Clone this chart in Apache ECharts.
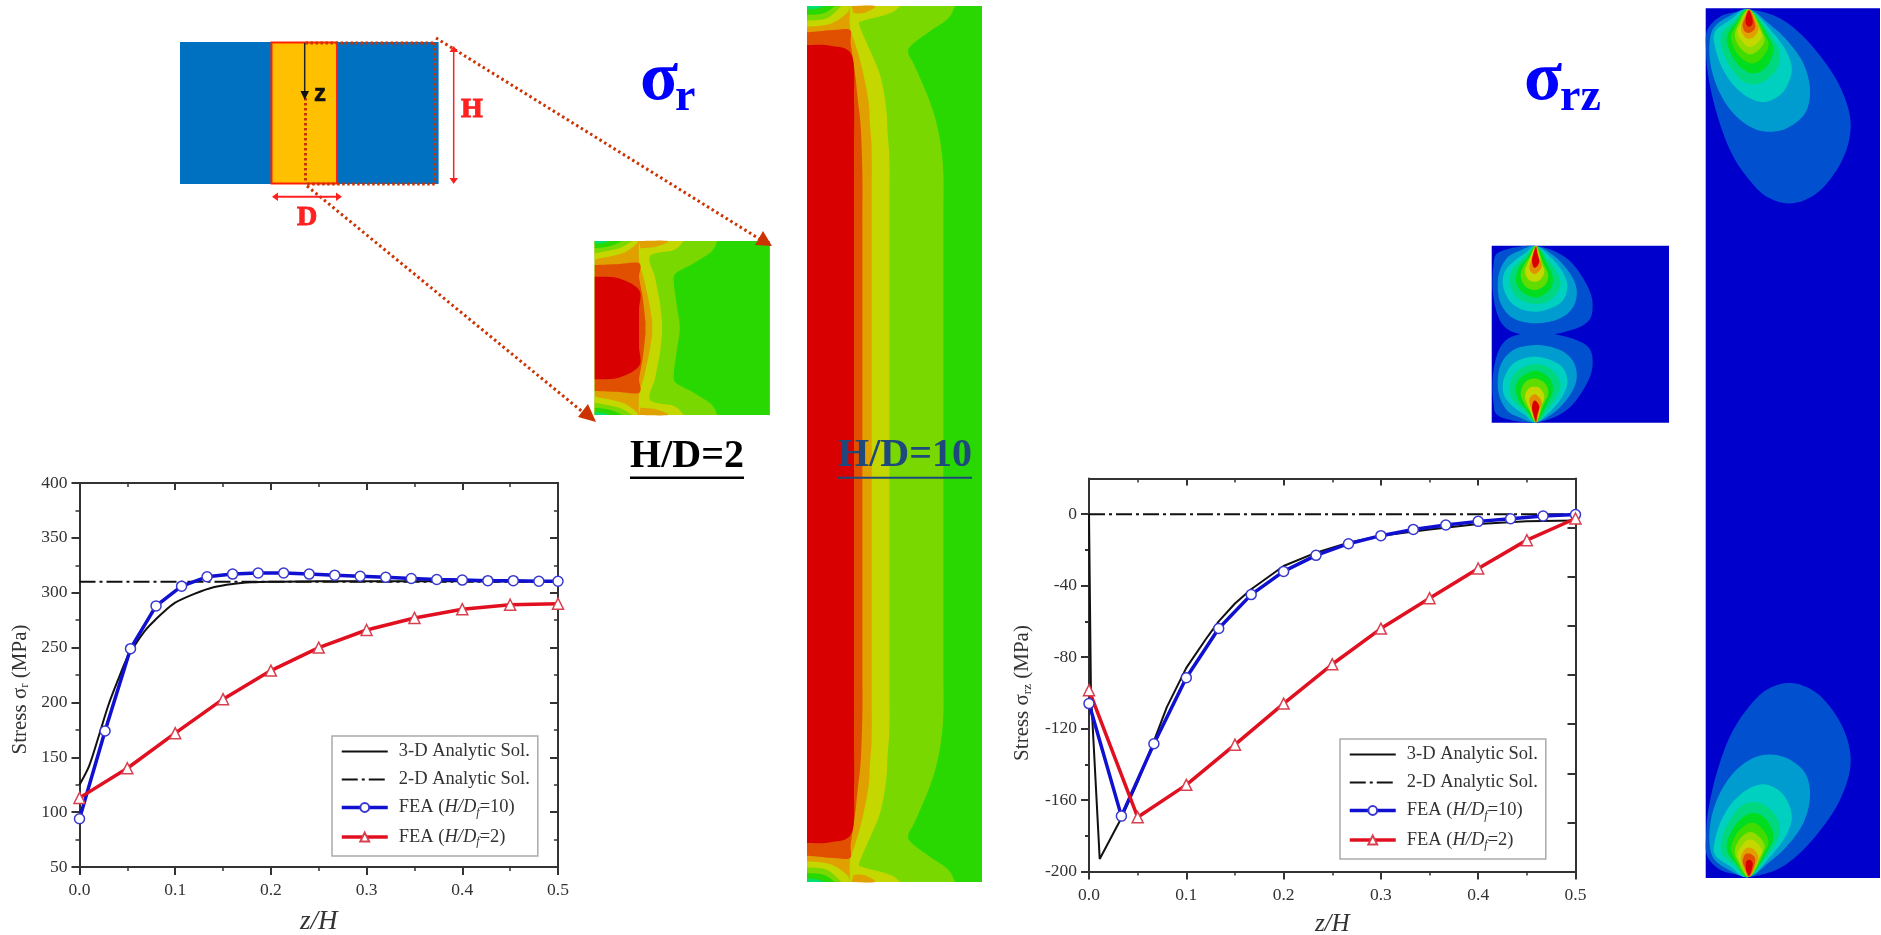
<!DOCTYPE html>
<html><head><meta charset="utf-8">
<style>html,body{margin:0;padding:0;background:#fff}#c{width:1881px;height:935px}</style>
<script src="https://cdn.jsdelivr.net/npm/echarts@6/dist/echarts.min.js"></script>
</head><body><div id="c"></div>
<script>
// ---------- chart data ----------
const NAME_3D='3-D Analytic Sol.', NAME_2D='2-D Analytic Sol.', NAME_H10='FEA (H/Df=10)', NAME_H2='FEA (H/Df=2)';
// sigma_r chart
const srAnalytic3dX=[0,.01,.02,.03,.04,.05,.06,.07,.08,.09,.1,.12,.14,.16,.18,.2,.25,.3,.4,.5];
const srAnalytic3dY=[125,142,169,197,220,241,255,267,276,284,291,299,305,308,309.5,310,310.5,310.5,310.5,310.5];
const srAnalytic2dX=[0,.5];
const srAnalytic2dY=[310,310];
const srFeaH10X=[0,.0267,.0533,.08,.1067,.1333,.16,.1867,.2133,.24,.2667,.2933,.32,.3467,.3733,.4,.4267,.4533,.48,.5];
const srFeaH10Y=[94,174,249,288,306,314.5,317,318,318,317,316,315,314,313,312,311.5,311,311,310.5,310.5];
const srFeaH2X=[0,.05,.1,.15,.2,.25,.3,.35,.4,.45,.5];
const srFeaH2Y=[113,140,172,203,229,250,266,277,285,289,290];
// sigma_rz chart
const srzAnalytic3dX=[0,.002,.011,.0333,.05,.0667,.08,.1,.12,.1333,.15,.1667,.2,.2333,.2667,.3,.35,.4,.45,.5];
const srzAnalytic3dY=[0,-100,-193,-170,-150,-127,-108,-86,-70,-60,-50,-42,-29,-21.5,-16,-12,-8.5,-5.5,-4,-3.5];
const srzAnalytic2dX=[0,.5];
const srzAnalytic2dY=[0,0];
const srzFeaH10X=[0,.0333,.0667,.1,.1333,.1667,.2,.2333,.2667,.3,.3333,.3667,.4,.4333,.4667,.5];
const srzFeaH10Y=[-106,-169,-128.5,-91.5,-64,-45,-32,-23,-16.5,-12,-8.5,-6,-4,-2.5,-1,-0.2];
const srzFeaH2X=[0,.05,.1,.15,.2,.25,.3,.35,.4,.45,.5];
const srzFeaH2Y=[-98.5,-169.6,-151.5,-129,-106,-84,-64,-47,-30.4,-14.5,-2.4];
// tick values
const srzLeftTicks=[-200,-160,-120,-80,-40,0];
const srzLeftMinorTicks=[-180,-140,-100,-60,-20];
const srzRightTicks=[-200,-172.5,-145,-117.5,-90,-62.5,-35,-7.5,20];

const SERIF='"Liberation Serif"';
const zip=(a,b)=>a.map((v,i)=>[v,b[i]]);

// ---------- contour illustration shapes (not data marks) ----------
function spline(pts,closed){
  const out=[],n=pts.length,N=10;
  const g=i=>closed?pts[(i+n)%n]:pts[Math.max(0,Math.min(n-1,i))];
  for(let i=0;i<(closed?n:n-1);i++){
    const p0=g(i-1),p1=g(i),p2=g(i+1),p3=g(i+2);
    for(let k=0;k<N;k++){
      const t=k/N,t2=t*t,t3=t2*t;
      const f=j=>.5*((2*p1[j])+(-p0[j]+p2[j])*t+(2*p0[j]-5*p1[j]+4*p2[j]-p3[j])*t2+(-p0[j]+3*p1[j]-3*p2[j]+p3[j])*t3);
      out.push([f(0),f(1)]);
    }
  }
  if(!closed)out.push(pts[n-1]);
  return out;
}
function densify(c,maxLen){
  const out=[c[0]];
  for(let i=1;i<c.length;i++){
    const a=c[i-1],b=c[i],d=Math.hypot(b[0]-a[0],b[1]-a[1]),m=Math.ceil(d/maxLen);
    for(let k=1;k<=m;k++)out.push([a[0]+(b[0]-a[0])*k/m,a[1]+(b[1]-a[1])*k/m]);
  }
  return out;
}
const els=[];
const poly=(points,fill)=>els.push({type:'polygon',silent:true,shape:{points},style:{fill}});
const rect=(x,y,width,height,fill)=>els.push({type:'rect',silent:true,shape:{x,y,width,height},style:{fill}});
const seg=(x1,y1,x2,y2,stroke,lineWidth,lineDash)=>els.push({type:'line',silent:true,shape:{x1,y1,x2,y2},style:{stroke,lineWidth,lineDash,fill:null}});
const txt=(x,y,text,font,fill,align,strokeW)=>els.push({type:'text',silent:true,x,y,style:{text,font,fill,align:align||'center',verticalAlign:'middle',stroke:strokeW?fill:null,lineWidth:strokeW||0}});

// green contour plots: bands from the top edge to the centre line, mirrored
function greenContour(T,edge,mid,maxLen,bands,blobs){
  rect(T.x(edge.l),T.y(edge.t),T.x(edge.r)-T.x(edge.l),T.y(edge.b)-T.y(edge.t),'#28d800');
  const mir=p=>p.map(q=>[q[0],2*mid-q[1]]);
  const P=a=>a.map(q=>[T.x(q[0]),T.y(q[1])]);
  bands.forEach(b=>{
    const half=densify(b.c,maxLen);
    const ctrl=half.concat(mir(half.slice(0,-1)).reverse());
    const full=spline(ctrl);
    if(b.c[0][0]!==edge.l){full.push([edge.l,2*mid-edge.t]);full.unshift([edge.l,edge.t]);}
    poly(P(full),b.f);
  });
  blobs.forEach(b=>{
    const s=spline(b.c);
    const pts=s.concat(b.close||[[edge.l,edge.t]]);
    poly(P(pts),b.f);poly(P(mir(pts)),b.f);
  });
}
greenContour({x:z=>800+z/3,y:z=>z/3},{l:21,r:546,t:18,b:2646},1332,150,[
 {f:'#78d800',c:[[465,18],[445,55],[395,90],[335,135],[325,160],[345,200],[395,320],[420,420],[430,520],[430,1332]]},
 {f:'#c4d800',c:[[300,18],[270,40],[190,62],[178,75],[205,140],[240,225],[258,320],[268,480],[268,1332]]},
 {f:'#e0a000',c:[[150,18],[150,85],[165,130],[185,200],[205,300],[215,450],[215,1332]]},
 {f:'#e05000',c:[[21,97],[100,90],[150,90],[152,130],[165,220],[182,380],[187,520],[187,1332]]},
 {f:'#d80000',c:[[21,135],[90,137],[155,165],[162,300],[162,1332]]}
],[
 {f:'#e0a000',c:[[155,18],[225,18],[195,38],[160,40]],close:[]},
 {f:'#c4d800',c:[[21,80],[90,72],[140,40],[150,18]]},
 {f:'#78d800',c:[[21,62],[80,55],[125,18]]},
 {f:'#28d800',c:[[21,45],[70,40],[105,18]]},
 {f:'#00e070',c:[[21,28],[50,26],[75,18]]}
]);
greenContour({x:z=>160+z/2.53,y:z=>20+z/3},{l:1100,r:1543,t:663,b:1185},924,70,[
 {f:'#78d800',c:[[1410,663],[1395,695],[1350,730],[1305,760],[1300,790],[1308,860],[1314,905],[1315,924]]},
 {f:'#c4d800',c:[[1325,663],[1300,690],[1240,708],[1252,770],[1265,850],[1270,905],[1270,924]]},
 {f:'#e0a000',c:[[1212,663],[1212,720],[1225,780],[1238,850],[1245,905],[1245,924]]},
 {f:'#e05000',c:[[1100,735],[1212,730],[1212,770],[1222,840],[1228,905],[1228,924]]},
 {f:'#d80000',c:[[1100,770],[1160,775],[1212,810],[1212,924]]}
],[
 {f:'#e0a000',c:[[1212,663],[1285,663],[1255,680],[1215,685]],close:[]},
 {f:'#c4d800',c:[[1100,718],[1170,700],[1205,672],[1208,663]]},
 {f:'#78d800',c:[[1100,700],[1160,685],[1195,663]]},
 {f:'#28d800',c:[[1100,685],[1140,678],[1170,663]]},
 {f:'#00e070',c:[[1100,672],[1125,668],[1135,663]]}
]);

// blue contour plots: nested teardrops, mirrored top/bottom
function blueContour(T,x0,y0,w,h,mirY,layers){
  rect(x0,y0,w,h,'#0000cc');
  layers.forEach(l=>{
    const s=spline(l.c,true);
    poly(s.map(q=>[T.x(q[0]),T.y(q[1])]),l.f);
    poly(s.map(q=>[T.x(q[0]),T.y(mirY-q[1])]),l.f);
  });
}
blueContour({x:z=>1700+z/3,y:z=>z/3},1705.7,8.3,174.3,869.7,2659,[
 {f:'#0050d0',c:[[147,28],[230,50],[300,100],[370,180],[420,260],[450,350],[445,430],[410,510],[350,580],[275,610],[200,590],[140,530],[90,450],[50,340],[25,230],[18,150],[22,90],[60,50],[110,35]]},
 {f:'#009cd0',c:[[147,28],[205,70],[260,120],[310,190],[330,270],[315,340],[260,385],[200,395],[150,380],[100,340],[60,280],[35,210],[28,140],[40,85],[85,50]]},
 {f:'#00d0c0',c:[[147,28],[220,100],[262,160],[275,215],[250,275],[200,305],[150,295],[100,255],[65,200],[45,140],[45,95],[90,60]]},
 {f:'#00d880',c:[[147,28],[215,110],[240,165],[225,215],[180,250],[130,245],[90,200],[65,145],[65,100],[100,65]]},
 {f:'#00dc20',c:[[147,28],[205,110],[220,155],[195,205],[155,220],[115,195],[85,145],[82,105],[110,65]]},
 {f:'#40dc00',c:[[147,28],[195,105],[205,140],[180,180],[150,190],[115,165],[95,125],[100,90]]},
 {f:'#90dc00',c:[[147,28],[185,95],[193,125],[170,155],[145,162],[118,140],[105,110],[112,80]]},
 {f:'#c4d800',c:[[147,28],[178,85],[185,110],[165,135],[145,140],[125,122],[112,95],[125,65]]},
 {f:'#e0a000',c:[[147,28],[170,70],[175,90],[160,112],[140,115],[125,95],[125,70]]},
 {f:'#e05000',c:[[147,28],[162,60],[165,85],[150,98],[135,95],[128,75],[135,55]]},
 {f:'#d80000',c:[[147,32],[155,50],[158,70],[148,80],[138,72],[138,50]]}
]);
blueContour({x:z=>1480+z/3,y:z=>230+z/3},1491.7,245.7,177.3,177,625,[
 {f:'#0050d0',c:[[168,48],[260,85],[318,160],[338,225],[318,280],[225,312],[120,312],[65,280],[40,200],[40,110],[60,65]]},
 {f:'#009cd0',c:[[168,48],[225,80],[270,130],[290,180],[280,230],[240,265],[170,280],[100,265],[60,215],[55,140],[80,85],[120,62]]},
 {f:'#00d0c0',c:[[168,48],[215,85],[250,130],[262,175],[240,220],[170,245],[105,228],[72,180],[72,130],[100,95],[135,70]]},
 {f:'#00d880',c:[[168,48],[205,90],[235,135],[240,170],[210,210],[165,222],[115,205],[90,165],[95,120],[130,85]]},
 {f:'#00dc20',c:[[168,48],[200,100],[218,140],[212,175],[185,198],[160,202],[125,185],[108,155],[115,115],[140,85]]},
 {f:'#60dc00',c:[[168,48],[190,100],[205,135],[195,165],[165,180],[135,168],[122,135],[135,100],[150,80]]},
 {f:'#c4d800',c:[[168,48],[183,95],[193,125],[180,150],[162,155],[145,148],[135,125],[145,95]]},
 {f:'#e09000',c:[[168,48],[178,85],[185,110],[170,130],[158,130],[148,115],[155,85]]},
 {f:'#d80000',c:[[168,50],[172,70],[178,95],[168,112],[160,110],[156,90],[162,65]]}
]);

// schematic
const DOT='#cc3300';
rect(180,42,258.6,142,'#0070c0');
rect(271.5,42,65.5,142,'#ffc000');
els.push({type:'rect',silent:true,shape:{x:271.5,y:42.5,width:65.5,height:141},style:{fill:null,stroke:'#ff2000',lineWidth:2}});
[[305.5,43,434.7,43],[434.7,43,434.7,184],[434.7,184,305.5,184],[305.5,98,305.5,184]].forEach(s=>seg(s[0],s[1],s[2],s[3],DOT,3,[2.5,2.5]));
seg(436,38,766,243,DOT,3,[2.5,3]);
seg(307,186,590,418,DOT,3,[2.5,3]);
poly([[772,246],[755,245],[763,231]],DOT);
poly([[596,422],[578,417],[588,404]],DOT);
seg(304.7,43,304.7,94,'#222',1.5);
poly([[304.7,100],[300.5,91],[309,91]],'#111');
txt(320,94,'z','bold 24px "Liberation Sans"','#111','center',.6);
seg(453.7,48,453.7,182,'#ff2020',1.5);
poly([[453.7,46],[449.5,52],[458,52]],'#ff2020');
poly([[453.7,184],[449.5,178],[458,178]],'#ff2020');
seg(274,196.7,340,196.7,'#ff2020',2);
poly([[272,196.7],[278,192.5],[278,201]],'#ff2020');
poly([[342,196.7],[336,192.5],[336,201]],'#ff2020');
txt(472,110,'H','bold 28px '+SERIF,'#ff2020','center',1);
txt(307,218,'D','bold 28px '+SERIF,'#ff2020','center',1);

// titles
txt(640,81,'σ','bold 70px '+SERIF,'#0000ff','left');
txt(675,98,'r','bold 46px '+SERIF,'#0000ff','left');
txt(1524,81,'σ','bold 70px '+SERIF,'#0000ff','left');
txt(1560,98,'rz','bold 46px '+SERIF,'#0000ff','left');
txt(687,457,'H/D=2','bold 40px '+SERIF,'#000');
seg(630,477.7,744,477.7,'#000',2.5);
txt(905,456,'H/D=10','bold 40px '+SERIF,'#1f497d');
seg(838,477.7,972,477.7,'#1f497d',2);

// ---------- chart options ----------
const AX='#333';
const outTick=l=>({show:true,inside:false,length:l,lineStyle:{color:AX,width:2}});
const inTick=l=>({show:true,inside:true,length:l,lineStyle:{color:AX,width:2}});
const minor=n=>({show:true,splitNumber:n,length:4,lineStyle:{color:AX,width:1.5}});
const axLine={show:true,onZero:false,lineStyle:{color:AX,width:2}};
const labelStyle={fontFamily:SERIF,fontSize:17.5,color:'#333'};
const xMain=(gi,fs,gap,mg)=>({type:'value',gridIndex:gi,min:0,max:.5,interval:.1,position:'bottom',
  axisLine:axLine,axisTick:outTick(8),minorTick:minor(2),splitLine:{show:false},minorSplitLine:{show:false},
  axisLabel:Object.assign({margin:mg,formatter:v=>v.toFixed(1),showMinLabel:true,showMaxLabel:true},labelStyle),
  name:'z/H',nameLocation:'middle',nameGap:gap,nameTextStyle:{fontFamily:SERIF,fontStyle:'italic',fontSize:fs,color:'#333'}});
const xTop=gi=>({type:'value',gridIndex:gi,min:0,max:.5,interval:.1,position:'top',
  axisLine:axLine,axisTick:inTick(7),minorTick:minor(2),splitLine:{show:false},axisLabel:{show:false}});
const nameRich=pad=>({fontFamily:SERIF,fontSize:19,color:'#333',padding:[0,pad,0,0],rich:{
  t:{fontFamily:SERIF,fontSize:21,color:'#333'},
  s:{fontFamily:SERIF,fontSize:13,color:'#333',padding:[10,0,0,0]}}});
const legendText={fontFamily:SERIF,fontSize:18.5,color:'#333',padding:[0,0,0,6],rich:{
  t:{fontFamily:SERIF,fontSize:18.5,color:'#333'},
  i:{fontFamily:SERIF,fontSize:18.5,fontStyle:'italic',color:'#333'},
  s:{fontFamily:SERIF,fontSize:12,fontStyle:'italic',color:'#333',padding:[10,0,0,0]}}};
const legendFmt=n=>{
  if(n===NAME_H10)return '{t|FEA (}{i|H/D}{s|f}{t|=10)}';
  if(n===NAME_H2)return '{t|FEA (}{i|H/D}{s|f}{t|=2)}';
  return '{t|'+n+'}';
};
const noMark={color:'transparent',borderColor:'transparent',borderWidth:0};
const legend=(left,top)=>({show:true,left,top,orient:'vertical',selectedMode:false,itemWidth:46,itemHeight:11,itemGap:9,
  padding:[6,8,8,8],backgroundColor:'#fff',borderColor:'#aaa',borderWidth:1.5,borderRadius:0,z:5,
  data:[{name:NAME_3D,itemStyle:noMark,lineStyle:{width:2}},{name:NAME_2D,itemStyle:noMark,lineStyle:{width:2}},
        {name:NAME_H10,lineStyle:{width:3.5}},{name:NAME_H2,lineStyle:{width:3.5}}],
  formatter:legendFmt,textStyle:legendText});
const BLUE='#1010d0',RED='#e01020';
const mkSeries=(xi,yi,a3,a2,h10,h2,smooth3d)=>[
 {name:NAME_3D,type:'line',xAxisIndex:xi,yAxisIndex:yi,data:a3,symbol:'none',smooth:smooth3d,clip:false,lineStyle:{color:'#111',width:2},itemStyle:{color:'#111'},z:3},
 {name:NAME_2D,type:'line',xAxisIndex:xi,yAxisIndex:yi,data:a2,symbol:'none',clip:false,lineStyle:{color:'#111',width:2,type:[16,4,3,4]},itemStyle:{color:'#111'},z:3},
 {name:NAME_H10,type:'line',xAxisIndex:xi,yAxisIndex:yi,data:h10,symbol:'circle',symbolSize:10,clip:false,lineStyle:{color:BLUE,width:3.5},itemStyle:{color:'#fff',borderColor:'#3838d0',borderWidth:1.5},z:4},
 {name:NAME_H2,type:'line',xAxisIndex:xi,yAxisIndex:yi,data:h2,symbol:'triangle',symbolSize:11,clip:false,lineStyle:{color:RED,width:3.5},itemStyle:{color:'#fff',borderColor:'#d84050',borderWidth:1.5},z:4}
];
const option={
 animation:false,backgroundColor:'#fff',
 graphic:{elements:els},
 legend:[legend(332,736),legend(1340,739)],
 grid:[{left:79.5,top:483,width:478.5,height:384,outerBoundsMode:'none'},{left:1089,top:478.5,width:486.5,height:393,outerBoundsMode:'none'}],
 xAxis:[xMain(0,27,41,14),xTop(0),xMain(1,25,40,15),xTop(1)],
 yAxis:[
  {type:'value',gridIndex:0,min:50,max:400,interval:50,position:'left',axisLine:axLine,axisTick:outTick(8),minorTick:minor(2),splitLine:{show:false},
   axisLabel:Object.assign({margin:12},labelStyle),
   name:'{t|Stress σ}{s|r}{t| (MPa)}',nameLocation:'middle',nameGap:48,nameRotate:90,nameTextStyle:nameRich(29)},
  {type:'value',gridIndex:0,min:50,max:400,interval:50,position:'right',axisLine:axLine,axisTick:inTick(8),minorTick:minor(2),splitLine:{show:false},axisLabel:{show:false}},
  {type:'value',gridIndex:1,min:-200,max:20,position:'left',axisLine:axLine,axisTick:Object.assign(outTick(8),{customValues:srzLeftTicks}),splitLine:{show:false},
   axisLabel:Object.assign({margin:12,customValues:srzLeftTicks},labelStyle),
   name:'{t|Stress σ}{s|rz}{t| (MPa)}',nameLocation:'middle',nameGap:55,nameRotate:90,nameTextStyle:nameRich(36)},
  {type:'value',gridIndex:1,min:-200,max:20,position:'right',axisLine:axLine,axisTick:Object.assign(inTick(8),{customValues:srzRightTicks}),splitLine:{show:false},axisLabel:{show:false}},
  {type:'value',gridIndex:1,min:-200,max:20,position:'left',axisLine:{show:false,onZero:false},axisTick:Object.assign(outTick(4),{customValues:srzLeftMinorTicks}),splitLine:{show:false},axisLabel:{show:false}}
 ],
 series:[
  ...mkSeries(0,0,zip(srAnalytic3dX,srAnalytic3dY),zip(srAnalytic2dX,srAnalytic2dY),zip(srFeaH10X,srFeaH10Y),zip(srFeaH2X,srFeaH2Y),0.3),
  ...mkSeries(2,2,zip(srzAnalytic3dX,srzAnalytic3dY),zip(srzAnalytic2dX,srzAnalytic2dY),zip(srzFeaH10X,srzFeaH10Y),zip(srzFeaH2X,srzFeaH2Y),false)
 ]
};
const chart=echarts.init(document.getElementById('c'),null,{renderer:'canvas'});
chart.setOption(option);
</script></body></html>
